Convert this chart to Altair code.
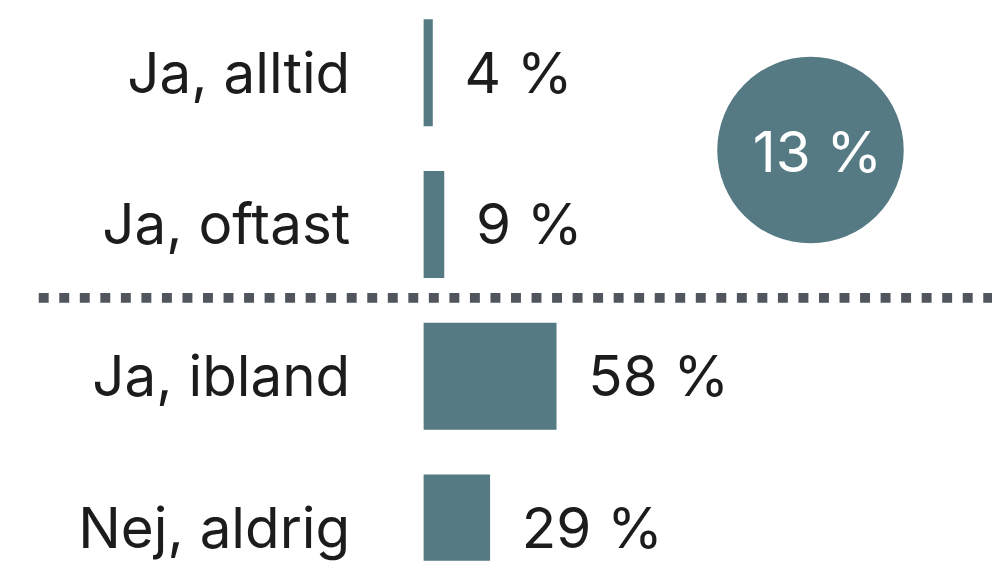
import altair as alt
import pandas as pd

categories = ["Ja, alltid", "Ja, oftast", "Ja, ibland", "Nej, aldrig"]
values = [4, 9, 58, 29]
value_labels = ["4 %", "9 %", "58 %", "29 %"]
summary_labels = ["13 %"]

df = pd.DataFrame({"cat": categories, "val": values, "label": value_labels})
summary_df = pd.DataFrame({"label": summary_labels})
one = pd.DataFrame({"a": [0]})

BAR = "#557a83"
TEXT = "#1c1c1c"
FONT = "Inter"
FS = 57

y = alt.Y("cat:N", sort=categories, axis=None,
          scale=alt.Scale(range=[9, 576], paddingInner=0.294, paddingOuter=0))
x = alt.X("val:Q", axis=None, scale=alt.Scale(domain=[0, 100], range=[419, 650]))

base = alt.Chart(df)

bars = base.mark_bar(color=BAR, clip=True).encode(x=x, y=y)

cat_text = base.mark_text(align="right", baseline="alphabetic", dy=20,
                          font=FONT, fontSize=FS, color=TEXT).encode(
    x=alt.value(345), y=y, text="cat:N")

val_text = base.mark_text(align="left", baseline="alphabetic", dx=32, dy=20,
                          font=FONT, fontSize=FS, color=TEXT).encode(
    x=x, y=y, text="label:N")

divider = alt.Chart(one).mark_rule(strokeDash=[10, 10.7], strokeWidth=10,
                                   color="#50555e", strokeCap="butt").encode(
    x=alt.value(31), x2=alt.value(992), y=alt.value(290))

circle = alt.Chart(summary_df).mark_circle(size=35344, color=BAR, opacity=1).encode(
    x=alt.value(809), y=alt.value(141))

circle_text = alt.Chart(summary_df).mark_text(align="center", baseline="alphabetic",
                                              font=FONT, fontSize=FS, color="white").encode(
    x=alt.value(816), y=alt.value(163), text="label:N")

chart = alt.layer(bars, cat_text, val_text, divider, circle, circle_text).properties(
    width=992, height=555,
    autosize=alt.AutoSizeParams(type="none"),
    padding=0,
    background="white",
).configure_view(stroke=None)

chart.save("out.html", embed_options={"renderer": "svg", "actions": False})
